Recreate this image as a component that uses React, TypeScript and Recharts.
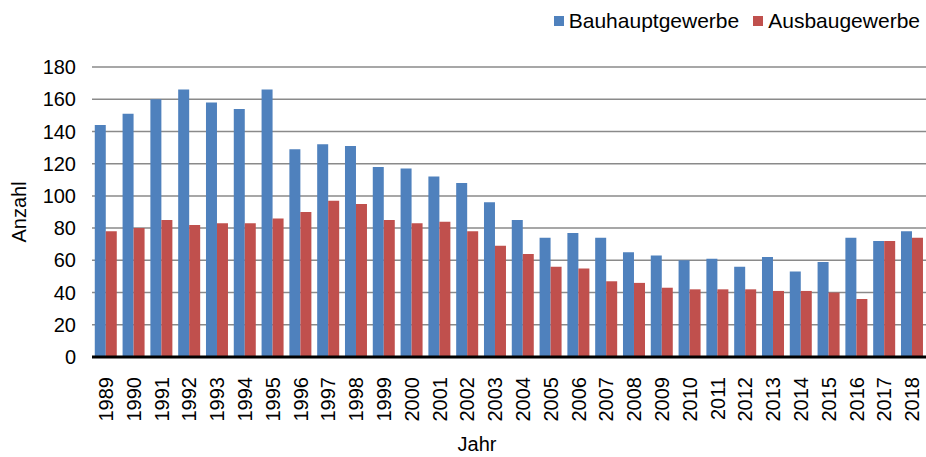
import { BarChart, Bar, XAxis, YAxis, CartesianGrid, Legend } from 'recharts'

const years = [
  '1989', '1990', '1991', '1992', '1993', '1994', '1995', '1996', '1997', '1998',
  '1999', '2000', '2001', '2002', '2003', '2004', '2005', '2006', '2007', '2008',
  '2009', '2010', '2011', '2012', '2013', '2014', '2015', '2016', '2017', '2018',
]
const bauhaupt = [
  144, 151, 160, 166, 158, 154, 166, 129, 132, 131,
  118, 117, 112, 108, 96, 85, 74, 77, 74, 65,
  63, 60, 61, 56, 62, 53, 59, 74, 72, 78,
]
const ausbau = [
  78, 80, 85, 82, 83, 83, 86, 90, 97, 95,
  85, 83, 84, 78, 69, 64, 56, 55, 47, 46,
  43, 42, 42, 42, 41, 41, 40, 36, 72, 74,
]
const yTicks = [0, 20, 40, 60, 80, 100, 120, 140, 160, 180]

const BLUE = '#4F81BD'
const RED = '#C0504D'
const FONT = 'Arial, "Liberation Sans", sans-serif'

const series = [
  { key: 'bauhaupt', name: 'Bauhauptgewerbe', color: BLUE },
  { key: 'ausbau', name: 'Ausbaugewerbe', color: RED },
]

const data = years.map((year, i) => ({ year, bauhaupt: bauhaupt[i], ausbau: ausbau[i] }))

function YearTick({ x, y, payload }: any) {
  return (
    <text
      x={x}
      y={y + 12}
      transform={`rotate(-90, ${x}, ${y + 12})`}
      textAnchor="end"
      dominantBaseline="central"
      fontSize={20}
      fontFamily={FONT}
      fill="#000"
    >
      {payload.value}
    </text>
  )
}

function LegendBox() {
  return (
    <div style={{ display: 'flex', fontFamily: FONT, fontSize: 21, color: '#000' }}>
      {series.map(s => (
        <div key={s.key} style={{ display: 'flex', alignItems: 'center', marginLeft: 14 }}>
          <span style={{ width: 10, height: 10, background: s.color, marginRight: 5, display: 'inline-block' }} />
          <span>{s.name}</span>
        </div>
      ))}
    </div>
  )
}

export default function App() {
  return (
    <div style={{ position: 'absolute', left: 0, top: 0, background: '#fff' }}>
      <BarChart
        width={926}
        height={457}
        data={data}
        margin={{ top: 37, right: 0, left: 0, bottom: 0 }}
        barCategoryGap="10%"
        barGap={0}
      >
        <CartesianGrid vertical={false} stroke="#8a8a8a" strokeWidth={1.5} />
        <XAxis
          dataKey="year"
          interval={0}
          height={100}
          tickLine={false}
          axisLine={{ stroke: '#000', strokeWidth: 3 }}
          tick={<YearTick />}
          label={({ viewBox }: any) => (
            <text
              x={viewBox.x + viewBox.width / 2 - 32}
              y={viewBox.y + viewBox.height - 6}
              textAnchor="middle"
              fontSize={20}
              fontFamily={FONT}
              fill="#000"
            >
              Jahr
            </text>
          )}
        />
        <YAxis
          width={92}
          domain={[0, 180]}
          ticks={yTicks}
          interval={0}
          tickLine={false}
          axisLine={false}
          tickSize={6}
          tickMargin={10}
          tick={{ fontSize: 20, fontFamily: FONT, fill: '#000' }}
          label={({ viewBox }: any) => (
            <text
              x={19}
              y={viewBox.y + viewBox.height / 2}
              transform={`rotate(-90, 19, ${viewBox.y + viewBox.height / 2})`}
              textAnchor="middle"
              dominantBaseline="central"
              fontSize={20}
              fontFamily={FONT}
              fill="#000"
            >
              Anzahl
            </text>
          )}
        />
        <Legend
          verticalAlign="top"
          align="right"
          height={30}
          content={<LegendBox />}
          wrapperStyle={{ top: 9, right: 6, left: 'auto', width: 'auto' }}
        />
        {series.map(s => (
          <Bar key={s.key} dataKey={s.key} name={s.name} fill={s.color} isAnimationActive={false} />
        ))}
      </BarChart>
    </div>
  )
}
